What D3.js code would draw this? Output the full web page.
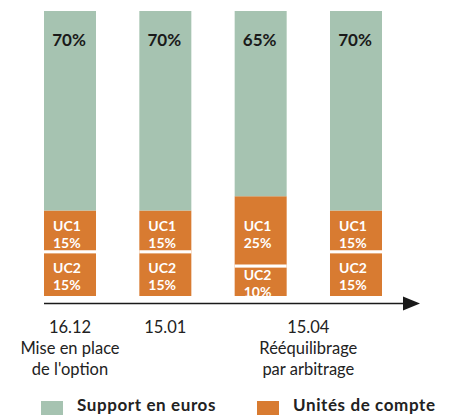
<!DOCTYPE html>
<html><head><meta charset="utf-8">
<script src="https://cdn.jsdelivr.net/npm/d3@7/dist/d3.min.js"></script>
<style>body{margin:0;background:#fff}svg{display:block}</style>
</head><body>
<svg id="c" width="452" height="416"></svg>
<script>
const categories = ["16.12", "15.01", "15.04 avant", "15.04 après"];
const supportEuros = [70, 70, 65, 70];
const uc1 = [15, 15, 25, 15];
const uc2 = [15, 15, 10, 15];
const seriesNames = ["Support en euros", "Unités de compte"];
const tickGroups = [
  {cats: ["16.12"], lines: ["16.12", "Mise en place", "de l'option"]},
  {cats: ["15.01"], lines: ["15.01"]},
  {cats: ["15.04 avant", "15.04 après"], lines: ["15.04", "Rééquilibrage", "par arbitrage"]}
];
const colors = {green: "#a6c3b1", orange: "#d87b31"};
const font = "Lato,'Open Sans',sans-serif";

const svg = d3.select("#c");
const x = d3.scaleBand().domain(categories).range([44, 382]).paddingInner(0.4545).paddingOuter(0);
const y = d3.scaleLinear().domain([0, 100]).range([296, 11]);

const rows = categories.map((c, i) => ({c, g: supportEuros[i], u1: uc1[i], u2: uc2[i]}));

const g = svg.append("g");
g.selectAll("rect.uc2").data(rows).join("rect")
  .attr("x", d => x(d.c)).attr("width", x.bandwidth())
  .attr("y", d => y(d.u2)).attr("height", d => y(0) - y(d.u2))
  .attr("fill", colors.orange);
g.selectAll("rect.uc1").data(rows).join("rect")
  .attr("x", d => x(d.c)).attr("width", x.bandwidth())
  .attr("y", d => y(d.u2 + d.u1)).attr("height", d => y(d.u2) - y(d.u2 + d.u1))
  .attr("fill", colors.orange);
g.selectAll("rect.eur").data(rows).join("rect")
  .attr("x", d => x(d.c)).attr("width", x.bandwidth())
  .attr("y", d => y(100)).attr("height", d => y(d.u2 + d.u1) - y(100))
  .attr("fill", colors.green);
g.selectAll("line.sep").data(rows).join("line")
  .attr("x1", d => x(d.c)).attr("x2", d => x(d.c) + x.bandwidth())
  .attr("y1", d => y(d.u2) - 1.5).attr("y2", d => y(d.u2) - 1.5)
  .attr("stroke", "#fff").attr("stroke-width", 3);

// Top labels
g.selectAll("text.top").data(rows).join("text")
  .attr("x", d => x(d.c) + x.bandwidth() / 2 - 1).attr("y", 45.5)
  .attr("text-anchor", "middle").attr("font-family", font).attr("font-weight", 700)
  .attr("font-size", 17).attr("fill", "#1a1a1a")
  .text(d => d.g + "%");

// UC labels (two separate text lines)
function ucLabel(name, key, base, top, d1, d2) {
  rows.forEach(d => {
    const mid = (y(base(d)) + y(top(d))) / 2;
    [[name.toUpperCase(), mid + d1], [d[key] + "%", mid + d2]].forEach(([txt, yy]) => {
      g.append("text").attr("x", x(d.c) + 9).attr("y", yy)
        .attr("font-family", font).attr("font-weight", 700).attr("font-size", 14)
        .attr("fill", "#fff").text(txt);
    });
  });
}
ucLabel("uc1", "u1", d => d.u2 + d.u1, d => d.u2, -0.5, 16.5);
ucLabel("uc2", "u2", d => d.u2, d => 0, -2, 15);

// Time arrow
const arrowY = 303.5;
svg.append("line").attr("x1", 44).attr("x2", 406).attr("y1", arrowY).attr("y2", arrowY)
  .attr("stroke", "#1a1a1a").attr("stroke-width", 1.6);
svg.append("path").attr("d", `M403,${arrowY - 7} L420,${arrowY} L403,${arrowY + 7} Z`).attr("fill", "#1a1a1a");

// Tick labels
tickGroups.forEach(tg => {
  const cx = d3.mean(tg.cats, c => x(c) + x.bandwidth() / 2);
  tg.lines.forEach((l, i) => svg.append("text").attr("text-anchor", "middle").attr("font-family", font)
    .attr("font-size", 16.5).attr("font-weight", 400).attr("fill", "#222")
    .attr("x", cx).attr("y", 333 + i * 21).text(l));
});

// Legend
const leg = [{name: seriesNames[0], color: colors.green, x: 41}, {name: seriesNames[1], color: colors.orange, x: 257}];
leg.forEach(l => {
  svg.append("rect").attr("x", l.x).attr("y", 401).attr("width", 22).attr("height", 14).attr("fill", l.color);
  svg.append("text").attr("x", l.x + 36).attr("y", 411).attr("font-family", font).attr("font-weight", 700)
    .attr("font-size", 17).attr("letter-spacing", 0.6).attr("fill", "#222").text(l.name);
});
</script>
</body></html>
